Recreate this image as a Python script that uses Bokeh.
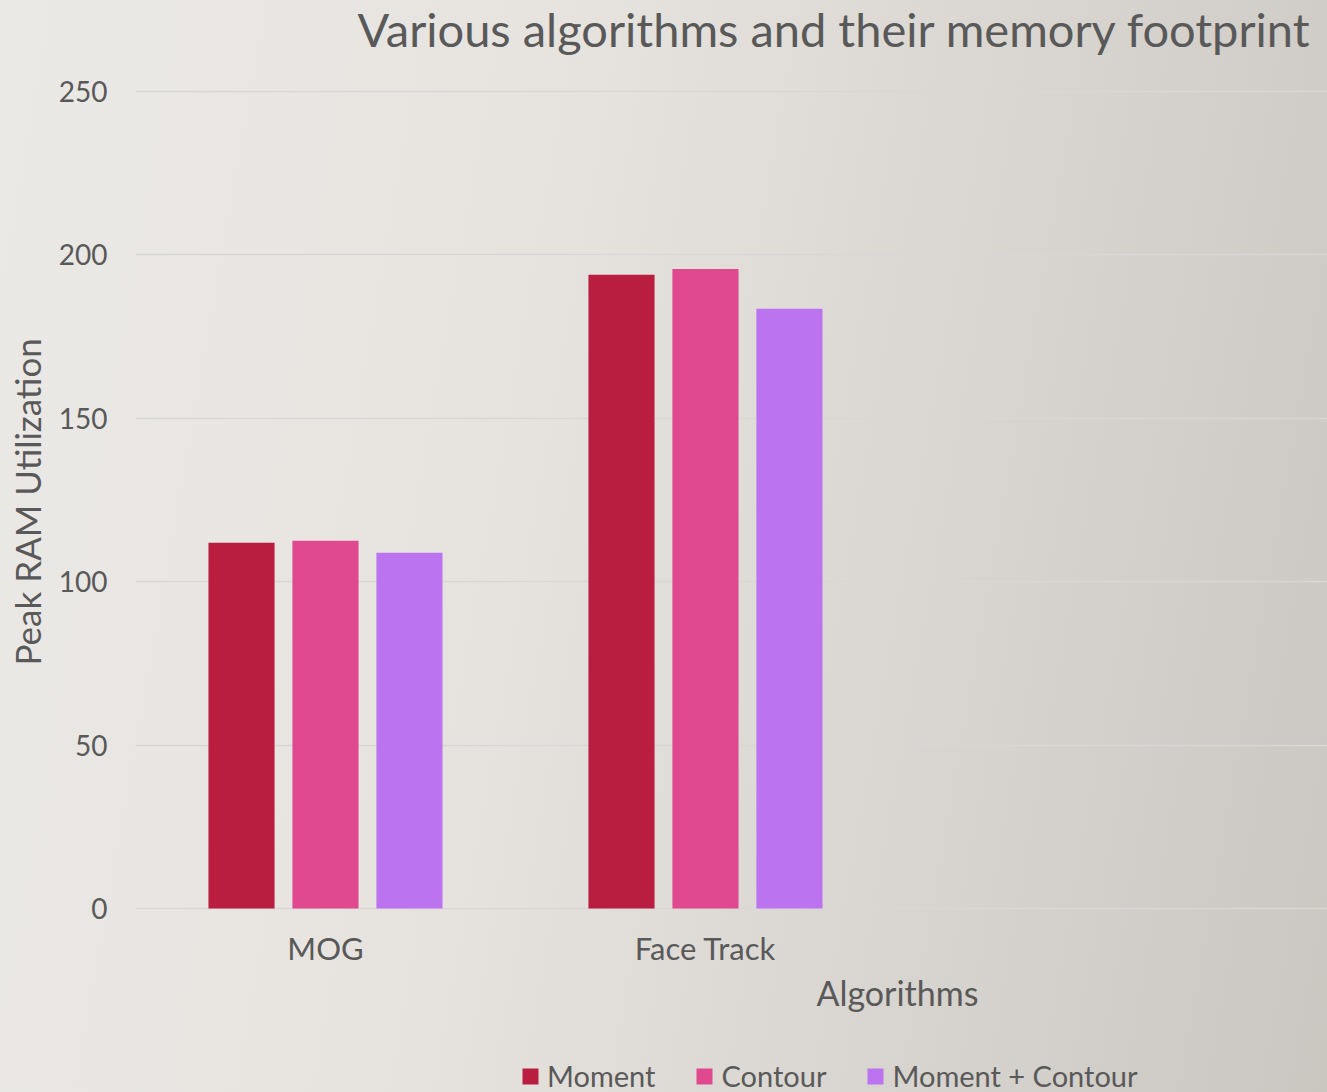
from bokeh.plotting import figure
from bokeh.models import (ColumnDataSource, Range1d, FixedTicker, CustomJSTickFormatter,
                          Legend, LegendItem, Title, Label, InlineStyleSheet)
from bokeh.embed import file_html
from bokeh.resources import INLINE

# ---- data ----
categories = ["MOG", "Face Track"]
series = ["Moment", "Contour", "Moment + Contour"]
moment = [111.9, 193.9]
contour = [112.5, 195.7]
moment_contour = [108.9, 183.5]
y_ticks = [0, 50, 100, 150, 200, 250]

colors = ["#b91e41", "#e0498f", "#bc73f0"]
FONT = "Lato"
TXT = "#595959"

# frame fills the figure (except the y-axis panel); 0 sits at 908px, 250 at 91px
p = figure(width=1327, height=1092, output_backend="svg", toolbar_location=None,
           x_range=Range1d(0, 3.137), y_range=Range1d(-56.3, 277.85),
           min_border_left=135, min_border_right=0, min_border_top=0, min_border_bottom=0)

p.background_fill_alpha = 0
p.border_fill_alpha = 0
p.outline_line_color = None
p.stylesheets = [InlineStyleSheet(css=":host { background: linear-gradient(100deg, #ebe9e6 0%, #e6e3df 40%, #d6d2cd 75%, #cac6c0 100%); }")]

offsets = [-0.221, 0.0, 0.221]
bar_w = 0.174
vals = [moment, contour, moment_contour]
renderers = []
for name, v, off, c in zip(series, vals, offsets, colors):
    src = ColumnDataSource(dict(x=[i + 0.5 + off for i in range(len(categories))], top=v))
    r = p.vbar(x="x", top="top", width=bar_w, bottom=0, source=src,
               fill_color=c, line_color=None)
    renderers.append((name, r))

# grid
p.xgrid.grid_line_color = None
p.ygrid.grid_line_color = "#d9d7d5"
p.ygrid.grid_line_width = 1.6
p.ygrid.ticker = FixedTicker(ticks=y_ticks)

# y axis
ya = p.yaxis[0]
ya.ticker = FixedTicker(ticks=y_ticks)
ya.axis_line_color = None
ya.major_tick_line_color = None
ya.minor_tick_line_color = None
ya.major_label_standoff = 22
ya.major_label_text_font = FONT
ya.major_label_text_font_size = "28px"
ya.major_label_text_color = TXT

ylab = Title(text="Peak RAM Utilization", align="left", vertical_align="top", offset=427,
             standoff=11, text_font=FONT, text_font_size="35px", text_font_style="normal",
             text_color=TXT)
p.add_layout(ylab, "left")

# x axis drawn at y = 0
xa = p.xaxis[0]
xa.fixed_location = 0
xa.ticker = FixedTicker(ticks=[i + 0.5 for i in range(len(categories))])
xa.formatter = CustomJSTickFormatter(args=dict(labels=categories),
                                     code="const i = Math.floor(tick); return (i >= 0 && i < labels.length) ? labels[i] : '';")
xa.axis_line_color = None
xa.major_tick_line_color = None
xa.minor_tick_line_color = None
xa.major_label_standoff = 14
xa.major_label_text_font = FONT
xa.major_label_text_font_size = "31px"
xa.major_label_text_color = TXT

# built-in title unused (zero size)
p.title.text = ""
p.title.text_font_size = "0px"
p.title.standoff = 0

title_lbl = Label(x=0.584, y=269.2, text="Various algorithms and their memory footprint",
                  text_font=FONT, text_font_size="47px", text_color=TXT,
                  text_align="left", text_baseline="alphabetic")
p.add_layout(title_lbl)

xlab = Label(x=1.792, y=-25.7, text="Algorithms", text_font=FONT, text_font_size="34px",
             text_color=TXT, text_align="left", text_baseline="alphabetic")
p.add_layout(xlab)

legend = Legend(items=[LegendItem(label=n, renderers=[r]) for n, r in renderers],
                orientation="horizontal", location=(385, -1),
                background_fill_alpha=0, border_line_color=None,
                glyph_width=20, glyph_height=20, label_standoff=7, spacing=39,
                label_text_font=FONT, label_text_font_size="29px", label_text_color=TXT,
                padding=0, margin=0)
p.add_layout(legend, "center")

open("out.html", "w").write(file_html(p, INLINE))
